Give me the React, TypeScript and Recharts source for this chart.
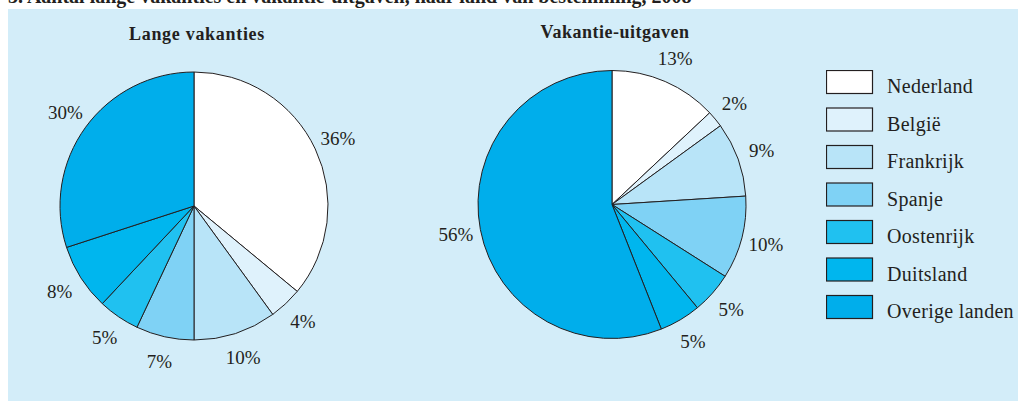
import { PieChart, Pie, Cell, Legend } from "recharts";

const landen = ["Nederland", "België", "Frankrijk", "Spanje", "Oostenrijk", "Duitsland", "Overige landen"];
const kleuren = ["#ffffff", "#dff2fc", "#b8e4f8", "#7fd2f5", "#20c1f0", "#00b6ee", "#00aeeb"];
const langeVakanties = [36, 4, 10, 7, 5, 8, 30];
const vakantieUitgaven = [13, 2, 9, 10, 5, 5, 56];

const serif = "'Liberation Serif', 'DejaVu Serif', serif";
const ink = "#231f20";
const RAD = Math.PI / 180;

const toData = (vals: number[]) => landen.map((land, i) => ({ land, waarde: vals[i] }));

const renderLabel = (p: any) => {
  const r = p.outerRadius + 25;
  const x = p.cx + r * Math.cos(-p.midAngle * RAD);
  const y = p.cy + r * Math.sin(-p.midAngle * RAD);
  return (
    <text x={x} y={y} textAnchor="middle" dominantBaseline="central" fill={ink} fontFamily={serif} fontSize={19}>
      {p.value}%
    </text>
  );
};

const LegendBox = () => (
  <svg width={192} height={260}>
    {landen.map((land, i) => (
      <g key={land}>
        <rect x={0.5} y={i * 37.5 + 0.5} width={46} height={23} fill={kleuren[i]} stroke={ink} strokeWidth={1.2} />
        <text x={61} y={i * 37.5 + 23} fill={ink} fontFamily={serif} fontSize={20} letterSpacing={0.3}>
          {land}
        </text>
      </g>
    ))}
  </svg>
);

export default function App() {
  return (
    <div style={{ position: "absolute", left: 0, top: 0, width: 1018, height: 401, overflow: "hidden", background: "#fff" }}>
      <div
        style={{
          position: "absolute",
          left: 8,
          top: -14.5,
          lineHeight: "20px",
          fontFamily: serif,
          fontWeight: "bold",
          fontSize: 20,
          color: ink,
          whiteSpace: "nowrap",
        }}
      >
        3. Aantal lange vakanties en vakantie-uitgaven, naar land van bestemming, 2008
      </div>
      <div style={{ position: "absolute", left: 8, top: 9, width: 1010, height: 392, background: "#d3edf9" }}>
        <PieChart width={1010} height={392} margin={{ top: 0, right: 0, bottom: 0, left: 0 }}>
          <text x={189} y={31} textAnchor="middle" fill={ink} fontFamily={serif} fontWeight="bold" fontSize={18} letterSpacing={0.7}>
            Lange vakanties
          </text>
          <text x={607} y={29} textAnchor="middle" fill={ink} fontFamily={serif} fontWeight="bold" fontSize={18} letterSpacing={0.5}>
            Vakantie-uitgaven
          </text>
          <Pie
            data={toData(langeVakanties)}
            dataKey="waarde"
            nameKey="land"
            cx={186}
            cy={197}
            outerRadius={134}
            startAngle={90}
            endAngle={-270}
            stroke={ink}
            strokeWidth={1}
            label={renderLabel}
            labelLine={false}
            isAnimationActive={false}
          >
            {landen.map((land, i) => (
              <Cell key={land} fill={kleuren[i]} />
            ))}
          </Pie>
          <Pie
            data={toData(vakantieUitgaven)}
            dataKey="waarde"
            nameKey="land"
            cx={604}
            cy={195.5}
            outerRadius={134}
            startAngle={90}
            endAngle={-270}
            stroke={ink}
            strokeWidth={1}
            label={renderLabel}
            labelLine={false}
            isAnimationActive={false}
          >
            {landen.map((land, i) => (
              <Cell key={land} fill={kleuren[i]} />
            ))}
          </Pie>
          <Legend
            content={() => <LegendBox />}
            wrapperStyle={{ position: "absolute", left: 818, top: 61, width: 192, height: 260 }}
          />
        </PieChart>
      </div>
    </div>
  );
}
